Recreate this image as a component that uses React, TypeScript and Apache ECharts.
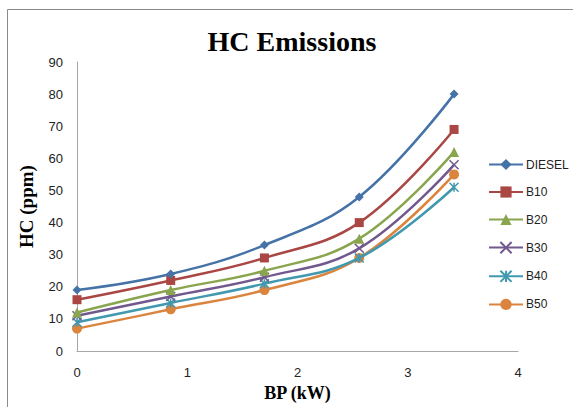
import React, { useEffect, useRef } from "react";
import * as echarts from "echarts";

// Brake power (kW) at each load step
const bpValues = [0, 0.85, 1.7, 2.56, 3.42];

// HC emissions (ppm) per fuel blend
const seriesNames = ["DIESEL", "B10", "B20", "B30", "B40", "B50"];
const diesel = [19, 24, 33, 48, 80];
const b10 = [16, 22, 29, 40, 69];
const b20 = [12, 19, 25, 35, 62];
const b30 = [11, 17, 23, 32, 58];
const b40 = [9, 15, 21, 29, 51];
const b50 = [7, 13, 19, 29, 55];

const yTicks = { min: 0, max: 90, interval: 10 };
const xTicks = { min: 0, max: 4, interval: 1 };

const colors = ["#4572A7", "#AA4643", "#89A54E", "#71588F", "#4198AF", "#DB843D"];
const symbols = [
  "diamond",
  "rect",
  "triangle",
  "path://M0,0L10,10M10,0L0,10",
  "path://M0,0L10,10M10,0L0,10M5,0L5,10",
  "circle",
];
const symbolSizes = [9, 9, 10, 9, 9, 10];

export default function App() {
  const ref = useRef<HTMLDivElement>(null);

  useEffect(() => {
    if (!ref.current) return;
    const chart = echarts.init(ref.current, null, { renderer: "svg" });
    const allData = [diesel, b10, b20, b30, b40, b50];

    chart.setOption({
      animation: false,
      backgroundColor: "#ffffff",
      textStyle: { fontFamily: "Liberation Sans" },
      title: {
        text: "HC Emissions",
        left: 287,
        top: 22,
        textAlign: "center",
        textStyle: {
          fontFamily: "Liberation Serif",
          fontWeight: "bold",
          fontSize: 28,
          color: "#000",
        },
      },
      graphic: [
        {
          type: "rect",
          shape: { x: 7.5, y: 9.5, width: 620, height: 420 },
          style: { fill: "none", stroke: "#8a8a8a", lineWidth: 1 },
          silent: true,
        },
      ],
      legend: {
        orient: "vertical",
        left: 483,
        top: 153.5,
        itemWidth: 34,
        itemHeight: 14,
        itemGap: 15.5,
        data: seriesNames,
        textStyle: { fontSize: 12, color: "#222", padding: [0, 0, 0, -2] },
      },
      grid: { left: 77, right: 55, top: 62, bottom: 50.5, containLabel: false },
      xAxis: {
        type: "value",
        min: xTicks.min,
        max: xTicks.max,
        interval: xTicks.interval,
        name: "BP (kW)",
        nameLocation: "middle",
        nameGap: 32,
        nameTextStyle: {
          fontFamily: "Liberation Serif",
          fontWeight: "bold",
          fontSize: 18,
          color: "#000",
          verticalAlign: "top",
        },
        axisLine: { show: true, lineStyle: { color: "#a6a6a6", width: 1 } },
        axisTick: { show: false },
        splitLine: { show: false },
        axisLabel: { fontSize: 13, color: "#222", margin: 15 },
      },
      yAxis: {
        type: "value",
        min: yTicks.min,
        max: yTicks.max,
        interval: yTicks.interval,
        name: "HC (ppm)",
        nameLocation: "middle",
        nameGap: 41,
        nameRotate: 90,
        nameTextStyle: {
          fontFamily: "Liberation Serif",
          fontWeight: "bold",
          fontSize: 19,
          color: "#000",
        },
        axisLine: { show: true, lineStyle: { color: "#a6a6a6", width: 1 } },
        axisTick: { show: false },
        splitLine: { show: false },
        axisLabel: { fontSize: 13, color: "#222", margin: 14 },
      },
      series: seriesNames.map((name, i) => ({
        name,
        type: "line",
        smooth: 0.4,
        data: bpValues.map((x, j) => [x, allData[i][j]]),
        symbol: symbols[i],
        symbolSize: symbolSizes[i],
        showAllSymbol: true,
        lineStyle: { color: colors[i], width: 2.5 },
        itemStyle: {
          color: colors[i],
          borderColor: colors[i],
          borderWidth: i === 3 || i === 4 ? 1.5 : 0,
        },
        z: 10 - i,
      })),
    });

    return () => chart.dispose();
  }, []);

  return (
    <div
      ref={ref}
      style={{ position: "absolute", left: 0, top: 0, width: 573, height: 407 }}
    />
  );
}
